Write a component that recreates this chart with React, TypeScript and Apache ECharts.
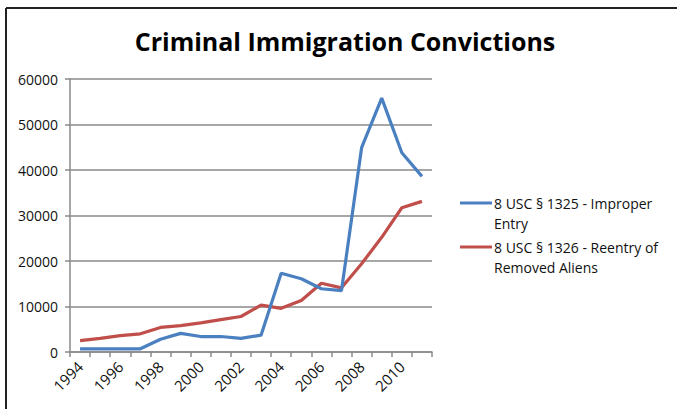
import React, { useEffect, useRef } from "react";
import * as echarts from "echarts";

const years = ["1994","1995","1996","1997","1998","1999","2000","2001","2002","2003","2004","2005","2006","2007","2008","2009","2010","2011"];
const improperEntry = [700,700,700,700,2800,4100,3400,3400,3000,3700,17300,16100,13900,13500,44900,55800,43800,38600];
const reentry = [2500,3000,3600,4000,5400,5800,6400,7100,7800,10300,9600,11300,15100,14100,19400,25200,31700,33100];
const seriesNames = ["8 USC § 1325 - Improper Entry", "8 USC § 1326 - Reentry of Removed Aliens"];
const legendLines = [["8 USC § 1325 - Improper", "Entry"], ["8 USC § 1326 - Reentry of", "Removed Aliens"]];
const colors = ["#4A80C0", "#C04E4B"];
const FONT = "'Open Sans', 'Noto Sans', sans-serif";

export default function App() {
  const ref = useRef<HTMLDivElement>(null);
  useEffect(() => {
    if (!ref.current) return;
    const chart = echarts.init(ref.current, null, { renderer: "svg" });
    const legendGraphics: any[] = [];
    legendLines.forEach((lines, i) => {
      const top = 203 + i * 44;
      legendGraphics.push({
        type: "line",
        shape: { x1: 460, y1: top, x2: 492, y2: top },
        style: { stroke: colors[i], lineWidth: 3 },
      });
      legendGraphics.push({
        type: "text",
        x: 494,
        y: top - 10,
        style: {
          text: lines.join("\n"),
          font: `14px ${FONT}`,
          fill: "#111",
          lineHeight: 20,
        },
      });
    });
    chart.setOption({
      animation: false,
      title: {
        text: "Criminal Immigration Convictions",
        left: 340,
        top: 23,
        textAlign: "center",
        textStyle: { fontFamily: FONT, fontSize: 25, fontWeight: "bold", color: "#000" },
      },
      grid: { left: 70, top: 79, width: 362, height: 273 },
      xAxis: {
        type: "category",
        data: years,
        boundaryGap: true,
        axisLine: { lineStyle: { color: "#8a8a8a", width: 1.5 } },
        axisTick: { show: true, interval: 0, length: 5, lineStyle: { color: "#8a8a8a", width: 1.5 } },
        axisLabel: { interval: 1, rotate: 45, fontFamily: FONT, fontSize: 15, color: "#111", margin: 12 },
      },
      yAxis: {
        type: "value",
        min: 0,
        max: 60000,
        interval: 10000,
        axisLine: { show: true, lineStyle: { color: "#8a8a8a", width: 1.5 } },
        axisTick: { show: true, length: 5, lineStyle: { color: "#8a8a8a", width: 1.5 } },
        axisLabel: { fontFamily: FONT, fontSize: 14, color: "#111", margin: 12, formatter: (v: number) => String(v) },
        splitLine: { lineStyle: { color: "#8a8a8a", width: 1.5 } },
      },
      series: [
        {
          name: seriesNames[0],
          type: "line",
          data: improperEntry,
          symbol: "none",
          lineStyle: { color: colors[0], width: 3.2 },
          itemStyle: { color: colors[0] },
          z: 3,
        },
        {
          name: seriesNames[1],
          type: "line",
          data: reentry,
          symbol: "none",
          lineStyle: { color: colors[1], width: 3.2 },
          itemStyle: { color: colors[1] },
          z: 2,
        },
      ],
      graphic: [
        { type: "line", shape: { x1: 6, y1: 8, x2: 677, y2: 8 }, style: { stroke: "#222", lineWidth: 2 } },
        { type: "line", shape: { x1: 6, y1: 8, x2: 6, y2: 409 }, style: { stroke: "#222", lineWidth: 2 } },
        ...legendGraphics,
      ],
    });
    return () => chart.dispose();
  }, []);
  return (
    <div style={{ position: "absolute", left: 0, top: 0, width: 677, height: 409, background: "#fff" }}>
      <div ref={ref} style={{ width: 677, height: 409 }} />
    </div>
  );
}
